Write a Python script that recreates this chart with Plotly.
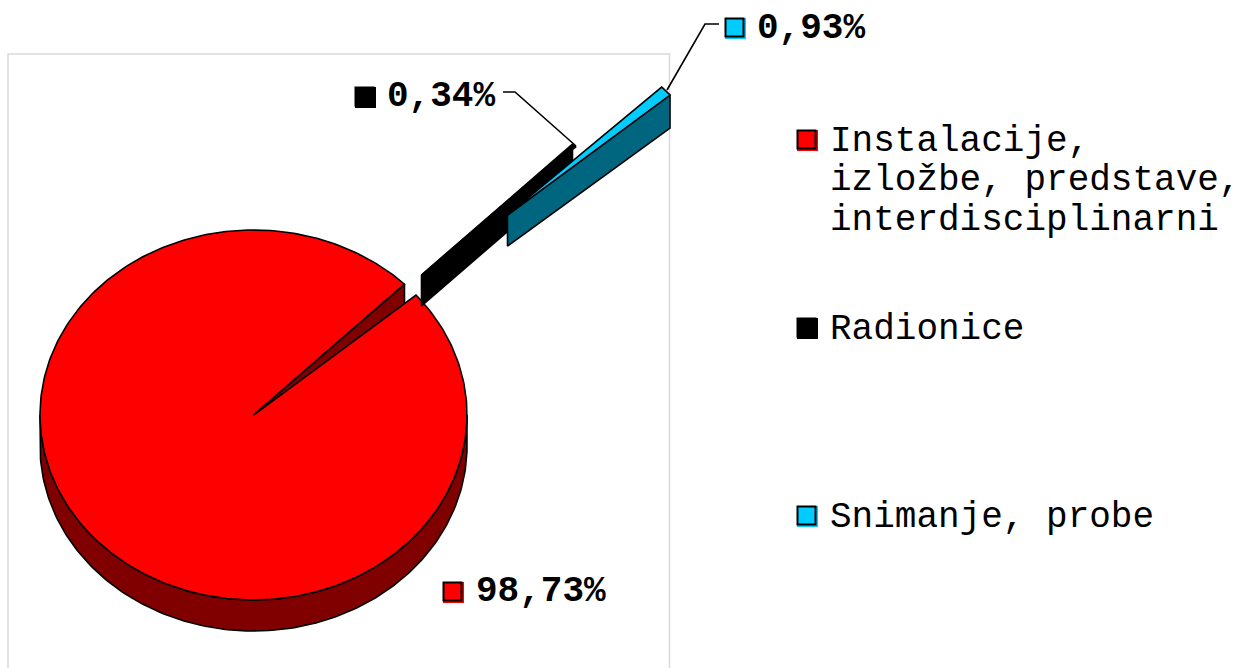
import numpy as np
import plotly.graph_objects as go

categories = ["Radionice", "Snimanje, probe", "Instalacije, izložbe, predstave, interdisciplinarni"]
values = [0.34, 0.93, 98.73]
top_colors = ["#000000", "#00CCFF", "#FF0000"]
wall_colors = ["#000000", "#006680", "#800000"]
legend_lines = [["Instalacije,", "izložbe, predstave,", "interdisciplinarni"], ["Radionice"], ["Snimanje, probe"]]

# pie geometry (pixels of the 1241x668 page)
CX, CY, RX, RY, DEPTH = 253.5, 415.0, 213.5, 185.0, 31.0
START_DEG = 45.0
OFFSETS = [(168.0, -140.0), (254.0, -200.0), (0.0, 0.0)]

fig = go.Figure()


def poly(xs, ys, fill, width=1.6, line="#000000"):
    fig.add_trace(go.Scatter(x=list(xs), y=list(ys), mode="lines", fill="toself", fillcolor=fill,
                             line=dict(color=line, width=width), hoverinfo="skip", showlegend=False))


def pt(deg, off=(0, 0), dy=0.0):
    r = np.radians(deg)
    return CX + off[0] + RX * np.cos(r), CY + off[1] - RY * np.sin(r) + dy


# slice angle spans, clockwise from the start angle
edges = START_DEG - np.cumsum([0] + [v / sum(values) * 360 for v in values])
spans = list(zip(edges[:-1], edges[1:]))

# big slice
a0, a1 = spans[2]
off = OFFSETS[2]
arc = np.radians(np.linspace(0, -180, 181))
ax = CX + RX * np.cos(arc)
ay = CY - RY * np.sin(arc)
poly(np.r_[ax, ax[::-1], ax[0]], np.r_[ay, ay[::-1] + DEPTH, ay[0]], wall_colors[2])
p = pt(START_DEG)
poly([CX, p[0], p[0], CX, CX], [CY, p[1], p[1] + DEPTH, CY + DEPTH, CY], wall_colors[2])
deg = np.linspace(a0, a1, 360)
px, py = pt(deg)
poly(np.r_[CX, px, CX], np.r_[CY, py, CY], top_colors[2])

# exploded slices: side wall, then top
for i in (0, 1):
    a0, a1 = spans[i]
    off = OFFSETS[i]
    ox, oy = CX + off[0], CY + off[1]
    wall_deg = a0 if i == 0 else a1
    wx, wy = pt(wall_deg, off)
    poly([ox, wx, wx, ox, ox], [oy, wy, wy + DEPTH + (2 if i else 0), oy + DEPTH, oy], wall_colors[i])
    deg = np.linspace(a0, a1, 8)
    px, py = pt(deg, off)
    poly(np.r_[ox, px, ox], np.r_[oy, py, oy], top_colors[i])

# leader lines
for lx, ly in [([503, 515, 576], [92, 92, 146]), ([719, 705, 667], [24, 24, 90])]:
    fig.add_trace(go.Scatter(x=lx, y=ly, mode="lines", line=dict(color="#000000", width=1.6),
                             hoverinfo="skip", showlegend=False))


def swatch(x, y, color):
    fig.add_trace(go.Scatter(x=[x + 0.5], y=[y + 0.5], mode="markers", hoverinfo="skip", showlegend=False,
                             marker=dict(symbol="square", size=21, color=color, line=dict(width=0))))
    fig.add_trace(go.Scatter(x=[x - 0.5], y=[y - 0.5], mode="markers", hoverinfo="skip", showlegend=False,
                             marker=dict(symbol="square", size=18, color=color, line=dict(color="#000000", width=2))))


annotations = []


def label(x, y, text, bold=False):
    annotations.append(dict(x=x, y=y, xref="x", yref="y", text=f"<b>{text}</b>" if bold else text,
                            showarrow=False, xanchor="left", yanchor="middle",
                            font=dict(family="Liberation Mono", size=36, color="#000000")))


# data labels
for i, (mx, my, tx, ty) in enumerate([(365, 97, 385, 96), (735, 28, 755, 28), (453, 592, 474, 591)]):
    swatch(mx, my, top_colors[i])
    label(tx, ty, f"{values[i]:.2f}".replace(".", ",") + "%", bold=True)

# legend
legend_colors = [top_colors[2], top_colors[0], top_colors[1]]
legend_marks = [(807, 140), (807, 328), (807, 516)]
for lines, color, (mx, my) in zip(legend_lines, legend_colors, legend_marks):
    swatch(mx, my, color)
    for k, line in enumerate(lines):
        label(828, my + 1 + k * 39.5, line)

fig.update_layout(
    width=1241, height=668, margin=dict(l=0, r=0, t=0, b=0), paper_bgcolor="#FFFFFF", plot_bgcolor="#FFFFFF",
    showlegend=False, annotations=annotations,
    xaxis=dict(range=[0, 1241], visible=False, fixedrange=True),
    yaxis=dict(range=[668, 0], visible=False, fixedrange=True),
    shapes=[dict(type="path", layer="below", xref="x", yref="y", path="M 8 668 L 8 54 L 669.5 54 L 669.5 668",
                 line=dict(color="#D9D9D9", width=1.5))],
)
fig.write_html("out.html", config=dict(displayModeBar=False),
               post_script="document.body.style.margin='0';document.body.style.overflow='hidden';")
